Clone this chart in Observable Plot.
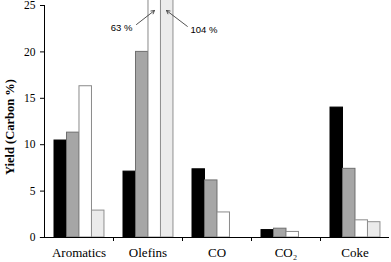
<!DOCTYPE html>
<html><head><meta charset="utf-8">
<script src="https://cdn.jsdelivr.net/npm/d3@7"></script>
<script src="https://cdn.jsdelivr.net/npm/@observablehq/plot@0.6"></script>
<style>
body{margin:0;background:#fff}
</style>
</head><body><div id="chart"></div>
<script>
const categories = ["Aromatics", "Olefins", "CO", "CO₂", "Coke"];
const seriesNames = ["A", "B", "C", "D"];
const seriesA = [10.45, 7.1, 7.35, 0.8, 14.0];
const seriesB = [11.3, 20.0, 6.15, 0.95, 7.4];
const seriesC = [16.3, 63, 2.7, 0.6, 1.85];
const seriesD = [2.9, 104, 0, 0, 1.65];
const yTicks = [0, 5, 10, 15, 20, 25];
const yLabel = "Yield (Carbon %)";
const noteLabels = ["63 %", "104 %"];

const fills = ["#000000", "#a6a6a6", "#ffffff", "#ebebeb"];
const strokes = ["#000000", "#6f6f6f", "#8a8a8a", "#8f8f8f"];
const groupPad = 0.145, barW = 0.181;

const allSeries = [seriesA, seriesB, seriesC, seriesD];
const table = [];
allSeries.forEach((vals, j) => vals.forEach((v, i) => {
  if (v > 0) table.push({cat: i, s: j, value: v,
    x1: i + groupPad + j * barW, x2: i + groupPad + (j + 1) * barW});
}));

// annotation anchors (data units)
const notes = [
  {label: noteLabels[0], tx: 1.275, ty: 22.6, ax1: 1.333, ay1: 22.95, ax2: 1.594, ay2: 24.46},
  {label: noteLabels[1], tx: 2.116, ty: 22.4, ax1: 2.07, ay1: 22.75, ax2: 1.768, ay2: 24.46}
];
const noteFont = {fontFamily: "'Liberation Sans', sans-serif", fontSize: 9.5, fill: "#000"};

const plot = Plot.plot({
  width: 391, height: 262,
  marginTop: 5, marginBottom: 25, marginLeft: 44, marginRight: 2,
  style: {fontFamily: "'Liberation Serif', serif", fontSize: "11px", background: "#fff", color: "#000"},
  x: {type: "linear", domain: [0, 5]},
  y: {domain: [0, 25]},
  marks: [
    Plot.rectY(table, {x1: "x1", x2: "x2", y: "value",
      fill: d => fills[d.s], stroke: d => strokes[d.s], strokeWidth: 1}),
    Plot.ruleX([0], {stroke: "#000", strokeWidth: 1}),
    Plot.ruleY([0], {x1: -0.06, x2: 5, stroke: "#000", strokeWidth: 1}),
    Plot.axisY({ticks: yTicks, tickSize: 4, tickPadding: 5, label: null, fontSize: 11.5}),
    Plot.text([yLabel], {x: -0.5, y: 11.9, rotate: -90, text: d => d,
      fontWeight: "bold", fontSize: 12.5, fontFamily: "'Liberation Serif', serif"}),
    Plot.axisX({ticks: [1, 2, 3, 4], tickSize: 4, tickFormat: () => "", label: null, anchor: "bottom"}),
    Plot.axisX({ticks: [0.5, 1.5, 2.5, 3.5, 4.5], tickSize: 0, tickPadding: 10,
      tickFormat: t => categories[Math.floor(t)], fontSize: 13, label: null, anchor: "bottom"}),
    Plot.arrow(notes, {x1: "ax1", y1: "ay1", x2: "ax2", y2: "ay2", stroke: "#404040",
      strokeWidth: 0.9, headLength: 6}),
    Plot.text([notes[0]], {x: "tx", y: "ty", text: "label", textAnchor: "end", ...noteFont}),
    Plot.text([notes[1]], {x: "tx", y: "ty", text: "label", textAnchor: "start", ...noteFont})
  ]
});
document.getElementById("chart").appendChild(plot);
</script>
</body></html>
